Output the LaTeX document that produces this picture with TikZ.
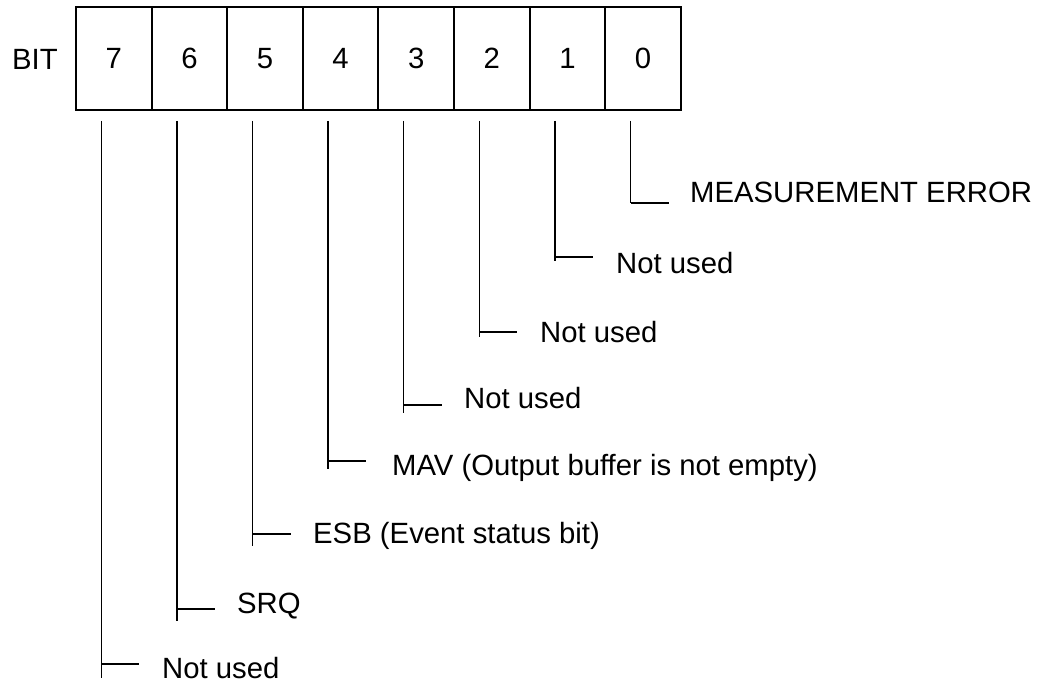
\documentclass[tikz,border=0pt]{standalone}
\usepackage{fontspec}
\setmainfont{Liberation Sans}
\usetikzlibrary{calc}
\begin{document}
\begin{tikzpicture}[x=1pt,y=-1pt,
  txt/.style={font=\fontsize{29.3}{33}\selectfont},
  cell/.style={draw,line width=1.9pt,minimum width=75.6pt,minimum height=103pt,inner sep=0,txt},
  lbl/.style={anchor=base west,inner sep=0,txt},
  conn/.style={line width=1.5pt}]
\useasboundingbox (0,0) rectangle (1038,684);
\node[lbl] (bit) at (12,70) {BIT};
\foreach \i in {0,...,7} {
  \node[cell] (c\i) at ({76+75.6*(7-\i)+37.8},58.5) {\i};
}
\foreach \i/\hy/\ve/\tx/\tb/\t in {
  0/202/202/690/203/{MEASUREMENT ERROR},
  1/256/260/616/274/{Not used},
  2/331/336/540/342/{Not used},
  3/404/412/464/408/{Not used},
  4/460/468/392/475/{MAV (Output buffer is not empty)},
  5/533/545/313/543/{ESB (Event status bit)},
  6/608/620/237/613/{SRQ},
  7/663/677/162/678/{Not used}} {
  \node[lbl] (l\i) at (\tx,\tb) {\t};
  \coordinate (s\i) at ($(c\i.south)+(-12.5,10)$);
  \coordinate (e\i) at ($(s\i)+(0,\ve-120)$);
  \coordinate (h\i) at ($(s\i)+(38,\hy-120)$);
  \draw[conn] (s\i) -- (e\i);
  \draw[conn] (s\i |- h\i) -- (h\i);
}
\end{tikzpicture}
\end{document}
